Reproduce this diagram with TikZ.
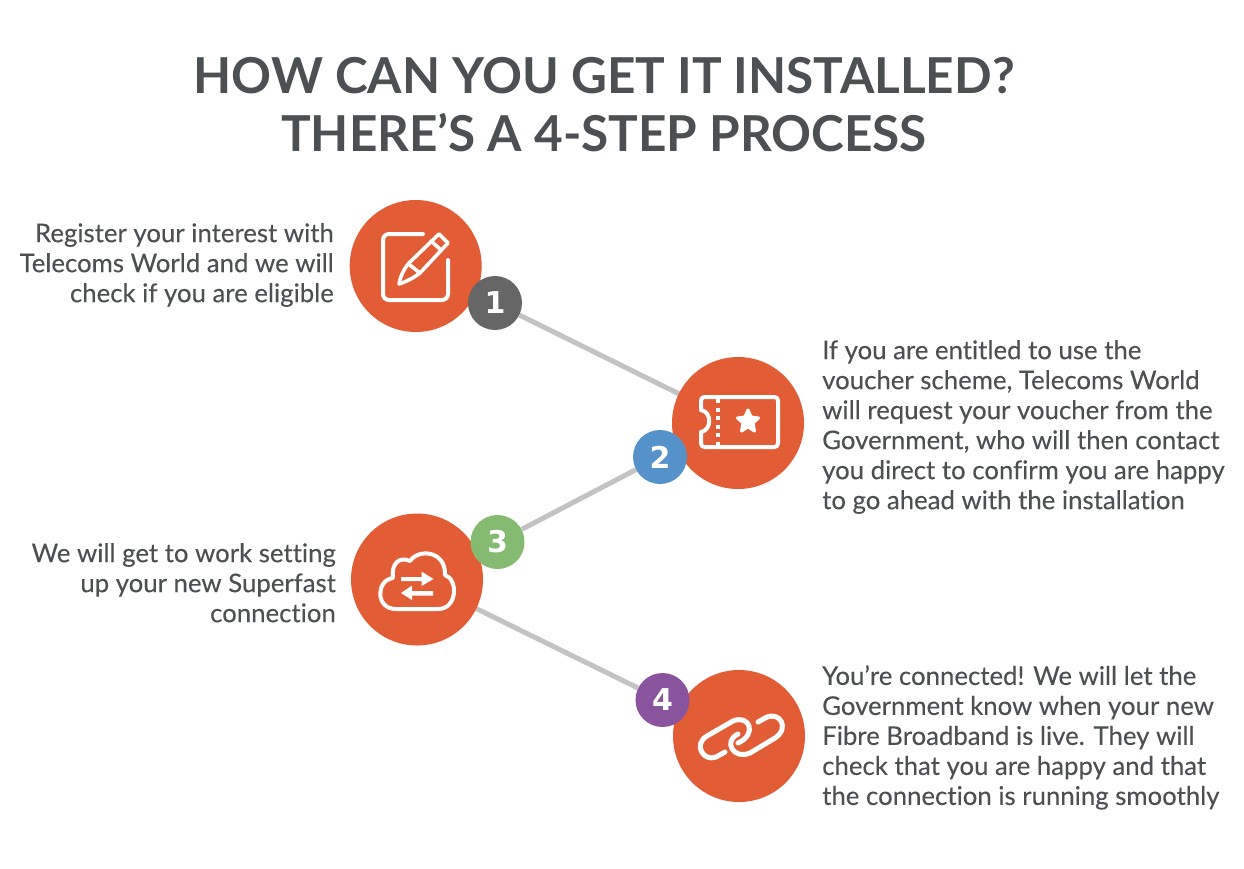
\documentclass[tikz,border=0pt]{standalone}
\usepackage{fontspec}
\setmainfont[Ligatures=NoCommon]{Lato}
\newfontfamily\parafont[Ligatures=NoCommon,FakeBold=0.12]{Lato}
\newfontfamily\digitfont{DejaVu Sans}
\usetikzlibrary{backgrounds}
\definecolor{orangeC}{HTML}{E25D35}
\definecolor{inkC}{HTML}{4D5052}
\definecolor{lineC}{HTML}{C3C3C3}
\definecolor{badgeA}{HTML}{666666}
\definecolor{badgeB}{HTML}{5592CA}
\definecolor{badgeC}{HTML}{85BB70}
\definecolor{badgeD}{HTML}{89549D}
\tikzset{
  bigdisc/.style={circle,fill=orangeC,minimum size=132pt,inner sep=0pt},
  badge/.style={circle,minimum size=54pt,inner sep=0pt,text=white,font=\digitfont\fontsize{30}{30}\selectfont\bfseries},
  conn/.style={draw=lineC,line width=5pt},
  icon/.style={draw=white,line width=4pt,line cap=round,line join=round},
  para/.style={text=inkC,inner sep=0pt,font=\parafont\fontsize{25.75}{30}\selectfont},
  titletext/.style={text=inkC,inner sep=0pt,align=center,font=\fontsize{49.5}{58}\selectfont\bfseries}
}
\begin{document}
\begin{tikzpicture}[x=1pt,y=-1pt]
\useasboundingbox (0,0) rectangle (1244,868);
\node[titletext] (title) at (604,105) {HOW CAN YOU GET IT INSTALLED?\\THERE’S A 4-STEP PROCESS};
\node[bigdisc] (d1) at (415.7,266) {};
\node[bigdisc] (d2) at (738,423) {};
\node[bigdisc] (d3) at (417,579.5) {};
\node[bigdisc] (d4) at (739,736) {};
\node[badge,fill=badgeA] (b1) at (495,303) {1};
\node[badge,fill=badgeB] (b2) at (660,457) {2};
\node[badge,fill=badgeC] (b3) at (497.5,542) {3};
\node[badge,fill=badgeD] (b4) at (662.5,700) {4};
\begin{scope}[on background layer]
\path[fill=white] (0,0) rectangle (1244,868);
\draw[conn] (b1) -- (d2.center);
\draw[conn] (b2) -- (b3);
\draw[conn] (d3.center) -- (b4);
\end{scope}
% text
\node[para,align=right,anchor=north east] (t1) at (334,223) {Register your interest with\\Telecoms World and we will\\check if you are eligible};
\node[para,align=left,anchor=north west] (t2) at (822,340) {If you are entitled to use the\\voucher scheme, Telecoms World\\will request your voucher from the\\Government, who will then contact\\you direct to confirm you are happy\\to go ahead with the installation};
\node[para,align=right,anchor=north east] (t3) at (336,543) {We will get to work setting\\up your new Superfast\\connection};
\node[para,align=left,anchor=north west] (t4) at (822,665) {You’re connected! We will let the\\Government know when your new\\Fibre Broadband is live. They will\\check that you are happy and that\\the connection is running smoothly};
% icon 1
\draw[icon,rounded corners=6pt] (423,234) -- (383,234) -- (383,300) -- (448,300) -- (448,260);
\draw[icon,line width=3.6pt] (439,234) -- (448,243) -- (420,273) .. controls (412,279) and (405,282) .. (399,284) .. controls (400,278) and (403,270) .. (409,263) -- cycle;
\draw[icon,line width=3.6pt] (408.5,264) -- (420,273);
\draw[icon,line width=3.6pt] (431,241) -- (441,250);
% icon 2
\draw[icon,rounded corners=3.5pt] (740,397) -- (701,397) -- (701,410);
\draw[icon] (701,410) .. controls (712,412) and (712,430) .. (701,432);
\draw[icon,rounded corners=3.5pt] (701,432) -- (701,447) -- (778,447) -- (778,397) -- (740,397);
\draw[white,line width=3.6pt,dash pattern=on 4pt off 4.5pt] (717.7,399) -- (717.7,445);
\fill[white,draw=white,line width=3pt,line join=round] (748,410) -- (751.2,417) -- (758.5,418) -- (753,423) -- (754.5,431) -- (748,427) -- (741.5,431) -- (743,423) -- (737.5,418) -- (744.8,417) -- cycle;
% icon 3
\draw[icon] (396,609) .. controls (375,609) and (376,580) .. (393,578) .. controls (391,564) and (399,556) .. (410,561) .. controls (419,548) and (446,551) .. (445,575) .. controls (458,579) and (458,609) .. (438,609) -- cycle;
\fill[white] (401,577) -- (421.5,577) -- (421.5,571.5) -- (433.5,579) -- (421.5,586) -- (421.5,581) -- (401,581) -- cycle;
\fill[white] (433,591) -- (412,591) -- (412,585.5) -- (401,593) -- (412,600) -- (412,595.5) -- (433,595.5) -- cycle;
% icon 4
\draw[icon,line width=5pt] (725,752) -- (716,757) .. controls (703,762) and (693,744) .. (707,736) -- (733,721) .. controls (749,714) and (758,734) .. (738,743);
\draw[icon,line width=5pt] (758,722) -- (766,717.5) .. controls (780,711) and (790,728) .. (775,738) -- (750,753) .. controls (733,760) and (723,741) .. (738,734);
\end{tikzpicture}
\end{document}
